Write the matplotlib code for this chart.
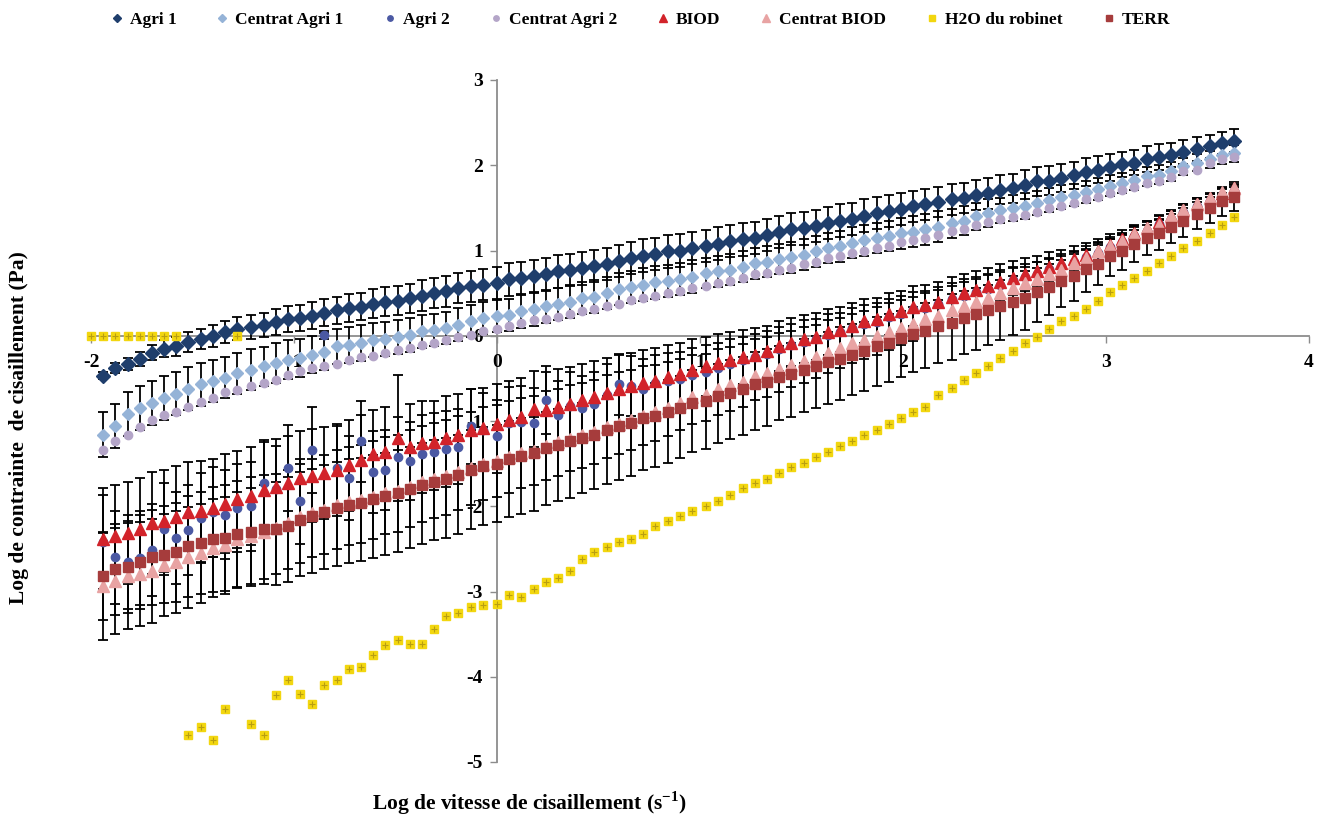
import numpy as np
import matplotlib
matplotlib.use("Agg")
import matplotlib.pyplot as plt
from matplotlib.lines import Line2D

nan = np.nan

# log shear rate (shared x grid)
log_rate = [-2.00, -1.94, -1.88, -1.82, -1.76, -1.70, -1.64, -1.58, -1.52, -1.46,
            -1.40, -1.34, -1.28, -1.21, -1.15, -1.09, -1.03, -0.97, -0.91, -0.85,
            -0.79, -0.73, -0.67, -0.61, -0.55, -0.49, -0.43, -0.37, -0.31, -0.25,
            -0.19, -0.13, -0.07, 0.00, 0.06, 0.12, 0.18, 0.24, 0.30, 0.36,
            0.42, 0.48, 0.54, 0.60, 0.66, 0.72, 0.78, 0.84, 0.90, 0.96,
            1.03, 1.09, 1.15, 1.21, 1.27, 1.33, 1.39, 1.45, 1.51, 1.57,
            1.63, 1.69, 1.75, 1.81, 1.87, 1.93, 1.99, 2.05, 2.11, 2.17,
            2.24, 2.30, 2.36, 2.42, 2.48, 2.54, 2.60, 2.66, 2.72, 2.78,
            2.84, 2.90, 2.96, 3.02, 3.08, 3.14, 3.20, 3.26, 3.32, 3.38,
            3.45, 3.51, 3.57, 3.63]

agri1 = [nan, -0.47, -0.38, -0.33, -0.27, -0.20, -0.15, -0.125, -0.075, -0.035,
         0.00, 0.04, 0.085, 0.10, 0.125, 0.16, 0.195, 0.21, 0.235, 0.27,
         0.30, 0.325, 0.34, 0.375, 0.40, 0.41, 0.44, 0.47, 0.50, 0.52,
         0.56, 0.58, 0.60, 0.62, 0.66, 0.68, 0.70, 0.72, 0.755, 0.77,
         0.79, 0.82, 0.845, 0.88, 0.91, 0.94, 0.96, 0.99, 1.00, 1.03,
         1.05, 1.08, 1.11, 1.13, 1.15, 1.18, 1.22, 1.255, 1.26, 1.29,
         1.32, 1.35, 1.37, 1.41, 1.44, 1.46, 1.49, 1.52, 1.54, 1.57,
         1.60, 1.615, 1.65, 1.67, 1.71, 1.73, 1.77, 1.81, 1.82, 1.85,
         1.88, 1.92, 1.95, 1.975, 2.01, 2.03, 2.07, 2.095, 2.12, 2.16,
         2.19, 2.22, 2.26, 2.29]
agri1_err = [nan, 0.04, 0.06, 0.07, 0.08, 0.09, 0.10, 0.11, 0.12, 0.12,
             0.13, 0.13, 0.14, 0.14, 0.14, 0.15, 0.15, 0.15, 0.16, 0.16,
             0.16, 0.16, 0.16, 0.17, 0.17, 0.17, 0.17, 0.18, 0.18, 0.18,
             0.18, 0.18, 0.18, 0.19, 0.19, 0.19, 0.19, 0.19, 0.19, 0.19,
             0.19, 0.19, 0.19, 0.19, 0.19, 0.19, 0.19, 0.19, 0.19, 0.19,
             0.19, 0.19, 0.19, 0.19, 0.19, 0.19, 0.19, 0.19, 0.19, 0.19,
             0.19, 0.19, 0.19, 0.19, 0.19, 0.19, 0.19, 0.18, 0.18, 0.18,
             0.18, 0.18, 0.18, 0.18, 0.17, 0.17, 0.17, 0.17, 0.17, 0.16,
             0.16, 0.16, 0.16, 0.16, 0.15, 0.15, 0.15, 0.15, 0.14, 0.14,
             0.14, 0.14, 0.13, 0.13]

centrat_agri1 = [nan, -1.16, -1.06, -0.92, -0.85, -0.79, -0.73, -0.68, -0.62, -0.57,
                 -0.53, -0.49, -0.44, -0.40, -0.36, -0.32, -0.28, -0.26, -0.22, -0.185,
                 -0.125, -0.105, -0.085, -0.055, -0.04, -0.01, 0.01, 0.05, 0.07, 0.09,
                 0.13, 0.17, 0.21, 0.235, 0.245, 0.285, 0.31, 0.345, 0.375, 0.40,
                 0.44, 0.46, 0.50, 0.55, 0.57, 0.60, 0.625, 0.64, 0.665, 0.695,
                 0.735, 0.755, 0.775, 0.81, 0.85, 0.87, 0.90, 0.92, 0.95, 0.99,
                 1.03, 1.05, 1.09, 1.12, 1.145, 1.17, 1.20, 1.22, 1.25, 1.28,
                 1.32, 1.35, 1.40, 1.44, 1.47, 1.50, 1.52, 1.555, 1.595, 1.63,
                 1.655, 1.69, 1.72, 1.76, 1.79, 1.83, 1.87, 1.89, 1.93, 1.99,
                 2.03, 2.07, 2.12, 2.14]
centrat_agri1_err = [nan, 0.26, 0.26, 0.26, 0.26, 0.26, 0.26, 0.25, 0.25, 0.25,
                     0.25, 0.24, 0.24, 0.24, 0.23, 0.23, 0.23, 0.22, 0.22, 0.22,
                     0.21, 0.21, 0.21, 0.20, 0.20, 0.20, 0.20, 0.19, 0.19, 0.19,
                     0.19, 0.19, 0.19, 0.19, 0.19, 0.19, 0.19, 0.19, 0.19, 0.19,
                     0.19, 0.19, 0.19, 0.19, 0.19, 0.19, 0.19, 0.19, 0.19, 0.19,
                     0.18, 0.18, 0.18, 0.18, 0.18, 0.18, 0.18, 0.18, 0.18, 0.18,
                     0.18, 0.18, 0.18, 0.18, 0.18, 0.18, 0.18, 0.18, 0.18, 0.18,
                     0.17, 0.17, 0.16, 0.16, 0.15, 0.15, 0.15, 0.14, 0.14, 0.14,
                     0.13, 0.13, 0.13, 0.12, 0.12, 0.12, 0.11, 0.11, 0.11, 0.10,
                     0.10, 0.10, 0.10, 0.10]

agri2 = [nan, -2.42, -2.60, -2.65, -2.61, -2.51, -2.27, -2.37, -2.28, -2.14,
         -2.07, -2.10, -2.02, -2.00, -1.73, -1.80, -1.55, -1.94, -1.34, 0.01,
         -1.55, -1.67, -1.24, -1.60, -1.57, -1.42, -1.47, -1.39, -1.36, -1.33,
         -1.30, -1.06, -1.10, -1.18, -1.02, -1.01, -1.02, -0.75, -0.93, -0.82,
         -0.85, -0.80, -0.70, -0.57, -0.59, -0.62, -0.56, -0.53, -0.51, -0.46,
         -0.42, -0.38, -0.33, -0.29, -0.25, -0.21, -0.155, -0.11, -0.07, -0.04,
         0.01, 0.04, 0.09, 0.14, 0.165, 0.22, 0.255, 0.31, 0.33, 0.37,
         0.43, 0.47, 0.51, 0.55, 0.60, 0.65, 0.69, 0.73, 0.78, 0.82,
         0.87, 0.92, 0.97, 1.04, 1.10, 1.17, 1.23, 1.31, 1.37, 1.45,
         1.52, 1.58, 1.64, 1.70]
agri2_err = [nan, 0.55, 0.55, 0.55, 0.55, 0.54, 0.54, 0.54, 0.53, 0.53,
             0.53, 0.52, 0.52, 0.52, 0.51, 0.51, 0.50, 0.50, 0.50, 0.05,
             0.49, 0.49, 0.48, 0.48, 0.47, 0.47, 0.46, 0.46, 0.45, 0.45,
             0.44, 0.44, 0.43, 0.43, 0.42, 0.42, 0.41, 0.40, 0.40, 0.39,
             0.38, 0.38, 0.37, 0.36, 0.35, 0.35, 0.34, 0.33, 0.32, 0.32,
             0.31, 0.30, 0.29, 0.28, 0.27, 0.27, 0.26, 0.25, 0.25, 0.24,
             0.24, 0.23, 0.23, 0.22, 0.22, 0.21, 0.21, 0.20, 0.20, 0.20,
             0.19, 0.19, 0.18, 0.18, 0.17, 0.16, 0.15, 0.14, 0.13, 0.12,
             0.11, 0.10, 0.10, 0.09, 0.08, 0.07, 0.07, 0.06, 0.06, 0.05,
             0.05, 0.05, 0.04, 0.04]

centrat_agri2 = [nan, -1.34, -1.23, -1.16, -1.07, -0.985, -0.935, -0.89, -0.83, -0.775,
                 -0.73, -0.665, -0.64, -0.59, -0.55, -0.515, -0.46, -0.415, -0.38, -0.35,
                 -0.33, -0.28, -0.25, -0.235, -0.20, -0.165, -0.145, -0.105, -0.085, -0.045,
                 -0.015, 0.01, 0.05, 0.08, 0.11, 0.15, 0.18, 0.195, 0.22, 0.26,
                 0.285, 0.31, 0.345, 0.375, 0.415, 0.44, 0.47, 0.50, 0.52, 0.56,
                 0.585, 0.62, 0.64, 0.68, 0.72, 0.74, 0.77, 0.80, 0.845, 0.87,
                 0.91, 0.94, 0.97, 1.00, 1.03, 1.055, 1.095, 1.12, 1.145, 1.185,
                 1.225, 1.255, 1.30, 1.33, 1.37, 1.39, 1.42, 1.45, 1.50, 1.525,
                 1.555, 1.60, 1.63, 1.67, 1.71, 1.745, 1.79, 1.81, 1.86, 1.93,
                 1.95, 2.025, 2.07, 2.10]

biod = [nan, -2.39, -2.35, -2.31, -2.27, -2.20, -2.17, -2.13, -2.07, -2.06,
        -2.02, -1.97, -1.92, -1.88, -1.81, -1.77, -1.73, -1.67, -1.64, -1.61,
        -1.57, -1.52, -1.46, -1.39, -1.36, -1.20, -1.30, -1.26, -1.25, -1.20,
        -1.16, -1.10, -1.08, -1.04, -0.99, -0.95, -0.86, -0.87, -0.83, -0.80,
        -0.75, -0.72, -0.67, -0.63, -0.59, -0.56, -0.525, -0.48, -0.445, -0.40,
        -0.36, -0.32, -0.29, -0.25, -0.22, -0.18, -0.125, -0.08, -0.04, -0.01,
        0.04, 0.07, 0.12, 0.17, 0.195, 0.25, 0.285, 0.34, 0.36, 0.40,
        0.46, 0.50, 0.54, 0.58, 0.63, 0.68, 0.72, 0.76, 0.81, 0.85,
        0.90, 0.95, 1.00, 1.07, 1.13, 1.20, 1.26, 1.34, 1.40, 1.48,
        1.55, 1.61, 1.67, 1.73]
biod_err = [nan, 0.60, 0.60, 0.60, 0.60, 0.60, 0.60, 0.60, 0.59, 0.59,
            0.58, 0.58, 0.57, 0.57, 0.56, 0.56, 0.55, 0.55, 0.55, 0.54,
            0.54, 0.53, 0.53, 0.52, 0.52, 0.74, 0.50, 0.50, 0.49, 0.49,
            0.48, 0.48, 0.47, 0.47, 0.46, 0.46, 0.45, 0.44, 0.44, 0.43,
            0.42, 0.42, 0.41, 0.40, 0.39, 0.39, 0.38, 0.37, 0.36, 0.36,
            0.35, 0.34, 0.33, 0.32, 0.31, 0.30, 0.30, 0.29, 0.28, 0.28,
            0.27, 0.27, 0.26, 0.26, 0.25, 0.25, 0.24, 0.24, 0.23, 0.23,
            0.23, 0.22, 0.22, 0.22, 0.21, 0.20, 0.19, 0.18, 0.17, 0.16,
            0.15, 0.14, 0.13, 0.12, 0.11, 0.10, 0.09, 0.08, 0.07, 0.06,
            0.06, 0.05, 0.05, 0.05]

centrat_biod = [nan, -2.94, -2.88, -2.82, -2.79, -2.76, -2.69, -2.65, -2.60, -2.55,
                -2.49, -2.46, -2.39, -2.35, -2.30, -2.26, -2.20, -2.13, -2.08, -2.04,
                -1.99, -1.95, -1.93, -1.89, -1.85, -1.82, -1.77, -1.72, -1.68, -1.65,
                -1.60, -1.55, -1.50, -1.47, -1.42, -1.38, -1.35, -1.29, -1.25, -1.21,
                -1.17, -1.13, -1.07, -1.03, -0.99, -0.94, -0.90, -0.85, -0.79, -0.72,
                -0.69, -0.63, -0.58, -0.54, -0.47, -0.44, -0.39, -0.34, -0.30, -0.25,
                -0.20, -0.14, -0.09, -0.055, 0.00, 0.04, 0.09, 0.14, 0.195, 0.235,
                0.305, 0.35, 0.40, 0.44, 0.50, 0.56, 0.62, 0.66, 0.72, 0.77,
                0.85, 0.91, 0.99, 1.05, 1.11, 1.19, 1.26, 1.30, 1.40, 1.48,
                1.55, 1.61, 1.69, 1.73]
centrat_biod_err = [nan, 0.63, 0.62, 0.62, 0.61, 0.61, 0.60, 0.60, 0.59, 0.58,
                    0.58, 0.57, 0.56, 0.56, 0.55, 0.54, 0.54, 0.53, 0.52, 0.52,
                    0.51, 0.50, 0.50, 0.49, 0.48, 0.48, 0.47, 0.46, 0.46, 0.45,
                    0.44, 0.44, 0.43, 0.42, 0.42, 0.41, 0.40, 0.40, 0.39, 0.38,
                    0.38, 0.37, 0.36, 0.36, 0.35, 0.34, 0.34, 0.33, 0.32, 0.32,
                    0.31, 0.30, 0.30, 0.29, 0.28, 0.28, 0.27, 0.26, 0.26, 0.25,
                    0.24, 0.24, 0.23, 0.22, 0.22, 0.21, 0.20, 0.20, 0.19, 0.18,
                    0.18, 0.17, 0.16, 0.16, 0.15, 0.14, 0.14, 0.13, 0.12, 0.12,
                    0.11, 0.10, 0.10, 0.09, 0.08, 0.08, 0.07, 0.06, 0.06, 0.05,
                    0.05, 0.05, 0.04, 0.04]

h2o = [0, 0, 0, 0, 0, 0, 0, 0, -4.68, -4.59,
       -4.74, -4.38, 0, -4.56, -4.68, -4.21, -4.04, -4.20, -4.32, -4.10,
       -4.04, -3.91, -3.88, -3.74, -3.63, -3.57, -3.62, -3.62, -3.44, -3.29,
       -3.25, -3.18, -3.16, -3.15, -3.04, -3.06, -2.97, -2.89, -2.84, -2.76,
       -2.62, -2.54, -2.48, -2.42, -2.39, -2.32, -2.23, -2.17, -2.12, -2.05,
       -2.00, -1.94, -1.87, -1.79, -1.73, -1.68, -1.61, -1.54, -1.49, -1.42,
       -1.36, -1.29, -1.24, -1.17, -1.10, -1.04, -0.97, -0.90, -0.83, -0.69,
       -0.61, -0.52, -0.44, -0.36, -0.26, -0.18, -0.09, -0.02, 0.08, 0.17,
       0.23, 0.31, 0.41, 0.51, 0.59, 0.68, 0.76, 0.85, 0.93, 1.03,
       1.11, 1.20, 1.30, 1.39]

terr = [nan, -2.82, -2.74, -2.71, -2.65, -2.60, -2.57, -2.54, -2.47, -2.43,
        -2.39, -2.37, -2.33, -2.30, -2.27, -2.27, -2.23, -2.16, -2.11, -2.07,
        -2.02, -1.98, -1.96, -1.92, -1.88, -1.85, -1.80, -1.75, -1.71, -1.68,
        -1.63, -1.58, -1.53, -1.50, -1.45, -1.41, -1.38, -1.32, -1.28, -1.24,
        -1.20, -1.16, -1.10, -1.06, -1.02, -0.97, -0.94, -0.90, -0.85, -0.79,
        -0.77, -0.71, -0.67, -0.63, -0.57, -0.54, -0.48, -0.45, -0.40, -0.36,
        -0.31, -0.27, -0.22, -0.18, -0.125, -0.08, -0.03, 0.02, 0.06, 0.11,
        0.15, 0.21, 0.25, 0.30, 0.35, 0.40, 0.44, 0.51, 0.57, 0.645,
        0.70, 0.78, 0.845, 0.93, 0.99, 1.075, 1.145, 1.21, 1.275, 1.35,
        1.43, 1.50, 1.575, 1.63]
terr_err = [nan, 0.52, 0.53, 0.54, 0.55, 0.56, 0.57, 0.58, 0.59, 0.60,
            0.61, 0.62, 0.63, 0.64, 0.64, 0.65, 0.66, 0.66, 0.67, 0.67,
            0.68, 0.68, 0.68, 0.69, 0.69, 0.69, 0.69, 0.69, 0.69, 0.69,
            0.69, 0.69, 0.69, 0.69, 0.68, 0.68, 0.67, 0.67, 0.66, 0.66,
            0.65, 0.64, 0.64, 0.63, 0.62, 0.61, 0.60, 0.59, 0.58, 0.57,
            0.56, 0.55, 0.54, 0.53, 0.53, 0.52, 0.51, 0.50, 0.50, 0.49,
            0.49, 0.48, 0.48, 0.47, 0.46, 0.46, 0.45, 0.44, 0.44, 0.43,
            0.43, 0.42, 0.42, 0.41, 0.40, 0.39, 0.37, 0.35, 0.33, 0.31,
            0.29, 0.27, 0.25, 0.23, 0.22, 0.21, 0.20, 0.20, 0.19, 0.19,
            0.18, 0.18, 0.17, 0.17]

series_names = ["Agri 1", "Centrat Agri 1", "Agri 2", "Centrat Agri 2", "BIOD",
                "Centrat BIOD", "H2O du robinet", "TERR"]
x_ticks = [-2, -1, 0, 1, 2, 3, 4]
y_ticks = [-5, -4, -3, -2, -1, 0, 1, 2, 3]

plt.rcParams["font.family"] = ["Liberation Serif", "DejaVu Serif"]
plt.rcParams["font.weight"] = "bold"
plt.rcParams["axes.unicode_minus"] = False
plt.rcParams["mathtext.fontset"] = "custom"
plt.rcParams["mathtext.rm"] = "Liberation Serif:bold"
plt.rcParams["mathtext.bf"] = "Liberation Serif:bold"

fig = plt.figure(figsize=(13.3, 8.16), dpi=100)
ax = fig.add_axes([91 / 1330, 1 - 762 / 816, (1309 - 91) / 1330, (762 - 80) / 816])
ax.set_xlim(-2, 4)
ax.set_ylim(-5, 3)

for side in ("top", "right"):
    ax.spines[side].set_visible(False)
ax.spines["left"].set_position(("data", 0))
ax.spines["bottom"].set_position(("data", 0))
for side in ("left", "bottom"):
    ax.spines[side].set_color("#8c8c8c")
    ax.spines[side].set_linewidth(1.3)
    ax.spines[side].set_zorder(1)
ax.set_xticks(x_ticks)
ax.set_yticks(y_ticks)
ax.tick_params(direction="out", length=5, width=1.0, color="#8c8c8c", labelsize=14)
ax.tick_params(axis="x", pad=8)
ax.tick_params(axis="y", pad=5)

styles = [
    dict(marker="D", ms=6.8, color="#1F3E6C"),
    dict(marker="D", ms=6.0, color="#95B3D7"),
    dict(marker="o", ms=6.0, color="#4B59A3"),
    dict(marker="o", ms=6.0, color="#B4A5C8"),
    dict(marker="^", ms=8.0, color="#D2232A"),
    dict(marker="^", ms=8.0, color="#E8A3A3"),
    dict(marker="s", ms=6.0, color="#F2D60F"),
    dict(marker="s", ms=7.0, color="#A63C3C"),
]
values = [agri1, centrat_agri1, agri2, centrat_agri2, biod, centrat_biod, h2o, terr]
errors = [agri1_err, centrat_agri1_err, agri2_err, None, biod_err, centrat_biod_err, None, terr_err]

x = np.array(log_rate)
for k, (y, e, st) in enumerate(zip(values, errors, styles)):
    y = np.array(y, dtype=float)
    if e is not None:
        ax.errorbar(x, y, yerr=np.array(e, dtype=float), fmt="none", ecolor="black",
                    elinewidth=1.3, capsize=3.5, capthick=1.3, zorder=2 + k * 0.1)
    ax.plot(x, y, linestyle="none", marker=st["marker"], ms=st["ms"],
            mfc=st["color"], mec=st["color"], zorder=3 + k * 0.1, clip_on=False)
    if k == 6:
        ax.plot(x, y, linestyle="none", marker="+", ms=5, mew=0.8,
                color="#B89E10", zorder=3 + k * 0.1 + 0.05, clip_on=False)

handles = [Line2D([], [], linestyle="none", marker=st["marker"], ms=st["ms"] * 0.65,
                  mfc=st["color"], mec=st["color"]) for st in styles]
fig.legend(handles, series_names, loc="center", bbox_to_anchor=(641 / 1330, 1 - 20 / 816),
           ncol=8, frameon=False, fontsize=12.5, handlelength=0.6, handletextpad=0.45,
           columnspacing=2.35, borderpad=0)

fig.text(529 / 1330, 1 - 803 / 816, r"Log de vitesse de cisaillement (s$^{\mathbf{-1}}$)",
         ha="center", va="center", fontsize=15.5, fontweight="bold")
fig.text(19 / 1330, 1 - 428 / 816, "Log de contrainte  de cisaillement (Pa)",
         ha="center", va="center", rotation=90, fontsize=15.5, fontweight="bold")

fig.savefig("out.png", dpi=100)
